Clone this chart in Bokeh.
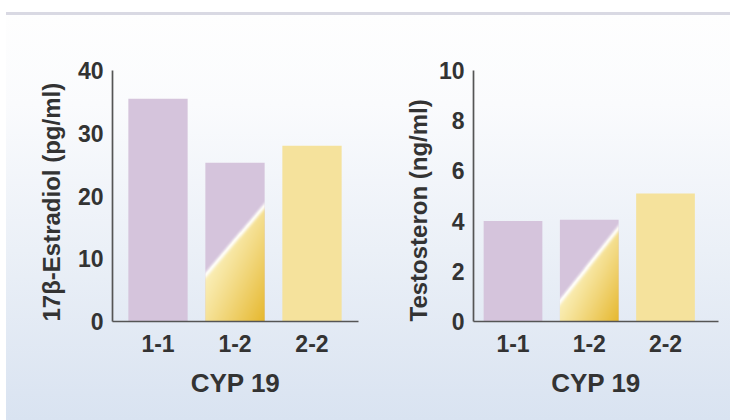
import numpy as np
from bokeh.plotting import figure
from bokeh.layouts import row
from bokeh.models import Range1d, FixedTicker, Title
from bokeh.embed import file_html
from bokeh.resources import INLINE

# CYP19 genotype groups and measured hormone levels
genotypes = ["1-1", "1-2", "2-2"]
estradiol = [35.5, 25.3, 28.0]        # 17beta-estradiol, pg/ml
testosteron = [4.0, 4.05, 5.1]        # testosterone, ng/ml
estradiol_ticks = [0, 10, 20, 30, 40]
testosteron_ticks = [0, 2, 4, 6, 8, 10]

PURPLE = "#d5c4dc"
YELLOW = "#f5e29c"
bar_colors = [PURPLE, PURPLE, YELLOW]
FONT = "Liberation Sans"
TEXT = "#333333"
AXIS = "#555555"
BAR_W = 0.77
FIG_H = 405
FRAME_TOP = 55
FRAME_H = 251


def split_fill(w_px, h_px, low, high):
    """Yellow lower part of a heterozygous bar: a diagonal split from
    `low` (left edge, fraction of height) to `high` (right edge), with a
    gold gradient and a soft white edge along the split."""
    nx, ny = int(w_px * 3), int(h_px * 3)
    u = (np.arange(nx) + 0.5) / nx
    v = (np.arange(ny) + 0.5) / ny
    U, V = np.meshgrid(u, v)
    X, Y = U * w_px, V * h_px
    slope = (high - low) * h_px / w_px
    y_line = low * h_px + slope * X
    d = (y_line - Y) / np.sqrt(1 + slope ** 2)       # >0 below the split
    dmax = d.max()

    light = np.array([251, 240, 186], float)
    gold = np.array([230, 184, 46], float)
    t = np.clip(0.7 * d / dmax + 0.3 * U, 0, 1) ** 1.1
    base = light + (gold - light) * t[..., None]
    glow = np.exp(-((d - 1.0) / 2.4) ** 2)[..., None]
    below = base + (255 - base) * 0.92 * glow

    cover = np.clip(d + 0.5, 0, 1)[..., None]
    above_alpha = 0.55 * np.exp(-(d / 1.6) ** 2)
    rgb = cover * below + (1 - cover) * 255
    alpha = cover[..., 0] + (1 - cover[..., 0]) * above_alpha

    img = np.empty((ny, nx), dtype=np.uint32)
    view = img.view(dtype=np.uint8).reshape((ny, nx, 4))
    view[..., :3] = np.clip(rgb, 0, 255).astype(np.uint8)
    view[..., 3] = np.clip(alpha * 255, 0, 255).astype(np.uint8)
    return img


def style_axis(ax):
    ax.axis_line_color = AXIS
    ax.axis_line_width = 1.7
    ax.major_tick_line_color = None
    ax.minor_tick_line_color = None
    ax.major_tick_out = 0
    ax.minor_tick_out = 0
    ax.major_label_text_font = FONT
    ax.major_label_text_font_size = "23px"
    ax.major_label_text_font_style = "bold"
    ax.major_label_text_color = TEXT
    ax.axis_label_text_font = FONT
    ax.axis_label_text_font_style = "bold"
    ax.axis_label_text_color = TEXT


def panel(values, ticks, y_end, ylabel, width, border_l, border_r,
          x_start, x_end, split, title_standoff):
    p = figure(width=width, height=FIG_H,
               x_range=Range1d(x_start, x_end), y_range=Range1d(0, y_end),
               output_backend="svg", toolbar_location=None,
               min_border_left=border_l, min_border_right=border_r,
               min_border_top=FRAME_TOP,
               min_border_bottom=FIG_H - FRAME_TOP - FRAME_H)
    p.background_fill_color = None
    p.border_fill_color = None
    p.outline_line_color = None
    p.grid.visible = False

    xs = [i + 1 for i in range(len(genotypes))]
    p.vbar(x=xs, top=values, bottom=0, width=BAR_W,
           fill_color=bar_colors, line_color=None)

    # diagonal two-tone fill of the heterozygous bar
    frame_w = width - border_l - border_r
    px_x = frame_w / (x_end - x_start)
    px_y = FRAME_H / y_end
    img = split_fill(BAR_W * px_x, values[1] * px_y, *split)
    p.image_rgba(image=[img], x=xs[1] - BAR_W / 2, y=0,
                 dw=BAR_W, dh=values[1])

    xa, ya = p.xaxis[0], p.yaxis[0]
    style_axis(xa)
    style_axis(ya)
    xa.ticker = FixedTicker(ticks=xs)
    xa.major_label_overrides = {x: g for x, g in zip(xs, genotypes)}
    xa.axis_label = "CYP 19"
    xa.axis_label_text_font_size = "26px"
    xa.major_label_standoff = 13
    xa.axis_label_standoff = 13
    ya.ticker = FixedTicker(ticks=ticks)
    ya.major_label_standoff = 9

    # vertical y title beside the tick labels, starting at the baseline
    p.add_layout(Title(text=ylabel, align="left",
                       standoff=title_standoff, text_font=FONT,
                       text_font_size="24px", text_font_style="bold",
                       text_color=TEXT), "left")
    return p


p1 = panel(estradiol, estradiol_ticks, 40, "17β-Estradiol (pg/ml)",
           width=359, border_l=106, border_r=7,
           x_start=0.409, x_end=3.604, split=(0.30, 0.74),
           title_standoff=20)
p2 = panel(testosteron, testosteron_ticks, 10, "Testosteron (ng/ml)",
           width=365, border_l=108, border_r=12,
           x_start=0.482, x_end=3.695, split=(0.21, 0.94),
           title_standoff=8)

p = row(p1, p2, margin=(15, 0, 0, 6),
        styles={"background": "linear-gradient(180deg, #fefefe 0%, #fafbfd 22%, "
                              "#ebf0f7 58%, #d9e3f1 100%)",
                "box-shadow": "0 -3px 0 0 #d9d9e3"})

open("out.html", "w").write(file_html(p, INLINE))
